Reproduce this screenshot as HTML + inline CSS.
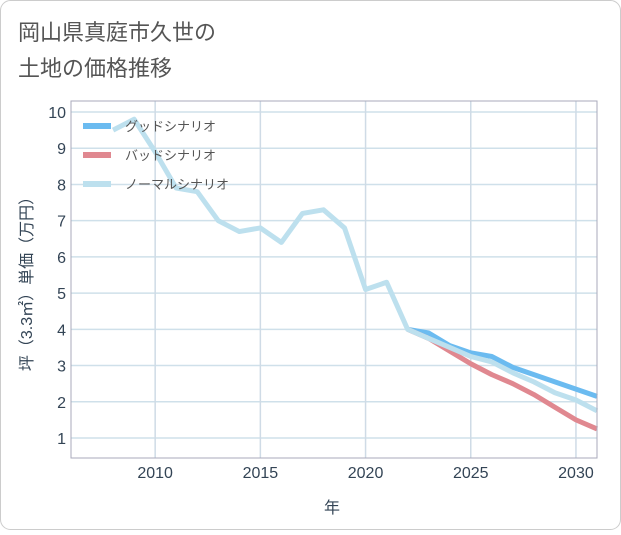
<!DOCTYPE html>
<html><head><meta charset="utf-8"><style>
body{margin:0;background:#fff;}
svg text{font-family:"Liberation Sans","Noto Sans CJK JP",sans-serif;}
</style></head><body>
<svg width="621" height="530">
<rect x="0.5" y="0.5" width="620" height="529" rx="10" fill="#fff" stroke="#ccc"/>
<text x="18" y="40" font-size="22" fill="#555">岡山県真庭市久世の</text>
<text x="18" y="76" font-size="22" fill="#555">土地の価格推移</text>
<g id="grid"></g>
<g id="series"></g>
<rect x="71" y="101" width="526" height="357" fill="none" stroke="#aab"/>
<g id="axes"></g>
<text x="332" y="513" font-size="16" fill="#345" text-anchor="middle">年</text>
<text transform="translate(32,280) rotate(-90)" font-size="16" fill="#345" text-anchor="middle">坪（3.3㎡）単価（万円）</text>
<g>
<line x1="83" y1="126" x2="111" y2="126" stroke="#6bbbf0" stroke-width="6"/>
<text x="125" y="131" font-size="13" fill="#555">グッドシナリオ</text>
<line x1="83" y1="155" x2="111" y2="155" stroke="#e08890" stroke-width="6"/>
<text x="125" y="160" font-size="13" fill="#555">バッドシナリオ</text>
<line x1="83" y1="184" x2="111" y2="184" stroke="#bde0ee" stroke-width="6"/>
<text x="125" y="189" font-size="13" fill="#555">ノーマルシナリオ</text>
</g>
</svg>
<script>
const yTicks=[1,2,3,4,5,6,7,8,9,10];
const xTicks=[2010,2015,2020,2025,2030];
const normalYears=[2008,2009,2010,2011,2012,2013,2014,2015,2016,2017,2018,2019,2020,2021,2022,2023,2024,2025,2026,2027,2028,2029,2030,2031];
const normalValues=[9.5,9.8,8.9,7.9,7.8,7.0,6.7,6.8,6.4,7.2,7.3,6.8,5.1,5.3,4.0,3.75,3.5,3.25,3.1,2.8,2.55,2.25,2.05,1.75];
const forecastYears=[2022,2023,2024,2025,2026,2027,2028,2029,2030,2031];
const goodValues=[4.0,3.9,3.55,3.35,3.25,2.95,2.75,2.55,2.35,2.15];
const badValues=[4.0,3.75,3.4,3.05,2.75,2.5,2.2,1.85,1.5,1.25];
const X=v=>71+(v-2006)*(526/25);
const Y=v=>438-(v-1)*36.22;
const NS="http://www.w3.org/2000/svg";
const grid=document.getElementById('grid'),axes=document.getElementById('axes'),ser=document.getElementById('series');
function mk(tag,attrs,parent){const e=document.createElementNS(NS,tag);for(const k in attrs)e.setAttribute(k,attrs[k]);parent.appendChild(e);return e;}
yTicks.forEach(t=>{
 const l=mk('line',{x1:71,x2:597,y1:Y(t),y2:Y(t),stroke:'#cfe0ea','stroke-width':1.5},grid);
 
 
 const tx=mk('text',{x:66,y:Y(t)+6,'font-size':16,fill:'#345','text-anchor':'end'},axes);
 tx.textContent=t;
 
 
});
xTicks.forEach(t=>{
 const l=mk('line',{x1:X(t),x2:X(t),y1:101,y2:458,stroke:'#cfdbe6','stroke-width':1.5},grid);
 
 
 const tx=mk('text',{x:X(t),y:478,'font-size':16,fill:'#345','text-anchor':'middle'},axes);
 tx.textContent=t;
 
 
});
function line(xs,vs,color,name){
 const p=mk('polyline',{points:xs.map((x,i)=>X(x)+','+Y(vs[i])).join(' '),fill:'none',stroke:color,'stroke-width':5,'stroke-linejoin':'round'},ser);
 
 
}
line(forecastYears,goodValues,'#6bbbf0','good-scenario-line');
line(forecastYears,badValues,'#e08890','bad-scenario-line');
line(normalYears,normalValues,'#bde0ee','normal-scenario-line');
</script>
</body></html>
